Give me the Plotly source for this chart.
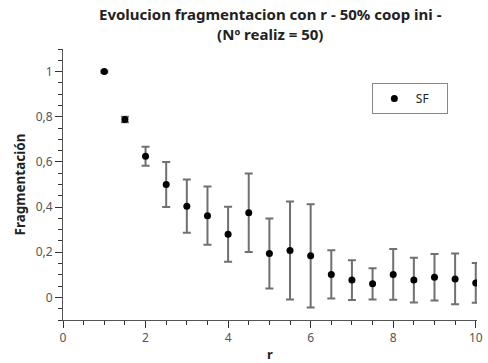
import plotly.graph_objects as go

r_vals = [1, 1.5, 2, 2.5, 3, 3.5, 4, 4.5, 5, 5.5, 6, 6.5, 7, 7.5, 8, 8.5, 9, 9.5, 10]
frag = [1.0, 0.788, 0.625, 0.50, 0.404, 0.362, 0.28, 0.375, 0.194, 0.208, 0.184, 0.102, 0.077, 0.06, 0.102, 0.077, 0.089, 0.082, 0.064]
err = [0.004, 0.012, 0.042, 0.10, 0.118, 0.129, 0.122, 0.174, 0.155, 0.217, 0.229, 0.107, 0.088, 0.069, 0.112, 0.099, 0.103, 0.112, 0.088]

title_lines = ["Evolucion fragmentacion con r - 50% coop ini -", "(Nº realiz = 50)"]
x_label = "r"
y_label = "Fragmentación"
series_name = "SF"

fig = go.Figure()
fig.add_trace(go.Scatter(
    x=r_vals, y=frag, mode="markers", name=series_name + "    ",
    marker=dict(color="black", size=7),
    error_y=dict(type="data", array=err, visible=True, color="#707070", thickness=2, width=4),
))

fig.add_annotation(
    text="<br>".join("<b>" + t + "</b>" for t in title_lines),
    xref="paper", yref="paper", x=0.5, y=1.0, xanchor="center", yanchor="bottom",
    yshift=3, showarrow=False, align="center",
    font=dict(family="Noto Sans", size=15, color="#222222"),
)

fig.update_layout(
    width=488, height=363,
    margin=dict(l=63, r=11, t=49, b=43, autoexpand=False),
    paper_bgcolor="white", plot_bgcolor="white",
    separators=",.",
    font=dict(family="Noto Sans", size=12, color="#555555"),
    showlegend=True,
    legend=dict(x=0.746, y=0.875, xanchor="left", yanchor="top",
                bordercolor="#888888", borderwidth=1, bgcolor="white",
                font=dict(size=12, color="#222222"),
                itemwidth=33),
    xaxis=dict(range=[0, 10.03], showgrid=False, zeroline=False, automargin=False,
               showline=True, linecolor="#555555", linewidth=1,
               ticks="outside", ticklen=7, tickcolor="#333333", dtick=2, tick0=0,
               minor=dict(ticks="outside", ticklen=4, dtick=0.5, tickcolor="#333333"),
               title=dict(text="<b>" + x_label + "</b>", font=dict(size=13, color="#222222"), standoff=4),
               tickfont=dict(size=12, color="#555555")),
    yaxis=dict(range=[-0.1, 1.1], showgrid=False, zeroline=False, automargin=False,
               showline=True, linecolor="#555555", linewidth=1,
               ticks="outside", ticklen=7, tickcolor="#333333", dtick=0.2, tick0=0,
               minor=dict(ticks="outside", ticklen=4, dtick=0.05, tickcolor="#333333"),
               title=dict(text="<b>" + y_label + "</b>", font=dict(size=13.5, color="#222222"), standoff=6),
               tickfont=dict(size=12, color="#555555")),
)

fig.write_html("out.html")
